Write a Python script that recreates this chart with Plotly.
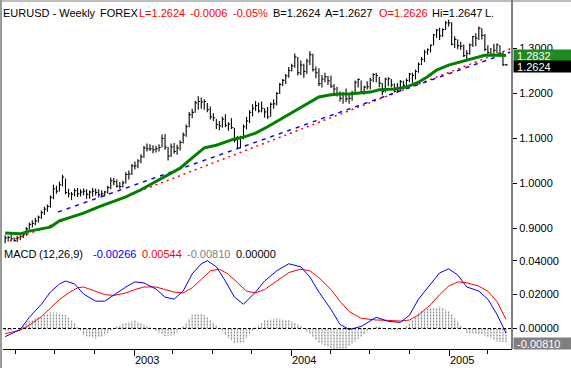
import plotly.graph_objects as go
import pandas as pd

# ---------------- data ----------------
week_dates = pd.date_range("2002-03-08", periods=167, freq="7D")

highs = [0.8840, 0.8830, 0.8850, 0.8790, 0.8820, 0.8840, 0.8880, 0.9020, 0.9120, 0.9170,
         0.9220, 0.9280, 0.9390, 0.9470, 0.9520, 0.9720, 0.9960, 0.9940, 1.0030, 1.0185,
         1.0100, 0.9870, 0.9800, 0.9880, 0.9890, 0.9860, 0.9880, 0.9860, 0.9830, 0.9890,
         0.9880, 0.9860, 0.9840, 0.9830, 0.9940, 1.0120, 1.0110, 1.0080, 1.0020, 1.0050,
         1.0240, 1.0280, 1.0420, 1.0480, 1.0530, 1.0640, 1.0820, 1.0880, 1.0860, 1.0840,
         1.0830, 1.0860, 1.1080, 1.1090, 1.0800, 1.0880, 1.0890, 1.0850, 1.0950, 1.1120,
         1.1300, 1.1580, 1.1650, 1.1830, 1.1930, 1.1900, 1.1860, 1.1780, 1.1700, 1.1550,
         1.1420, 1.1380, 1.1470, 1.1530, 1.1350, 1.1440, 1.1230, 1.1050, 1.1050, 1.1300,
         1.1470, 1.1620, 1.1750, 1.1820, 1.1790, 1.1810, 1.1660, 1.1690, 1.1790, 1.1860,
         1.2020, 1.2220, 1.2310, 1.2420, 1.2580, 1.2650, 1.2880, 1.2800, 1.2720, 1.2650,
         1.2760, 1.2930, 1.2870, 1.2590, 1.2550, 1.2400, 1.2450, 1.2380, 1.2390, 1.2200,
         1.2140, 1.2040, 1.2020, 1.2100, 1.1960, 1.2050, 1.2280, 1.2330, 1.2280, 1.2160,
         1.2260, 1.2340, 1.2440, 1.2450, 1.2360, 1.2220, 1.2340, 1.2350, 1.2310, 1.2210,
         1.2220, 1.2290, 1.2270, 1.2320, 1.2450, 1.2450, 1.2520, 1.2680, 1.2800, 1.2960,
         1.2990, 1.3080, 1.3310, 1.3420, 1.3450, 1.3440, 1.3600, 1.3630, 1.3570, 1.3260,
         1.3190, 1.3140, 1.3080, 1.2950, 1.3100, 1.3270, 1.3330, 1.3480, 1.3440, 1.3310,
         1.3060, 1.3000, 1.3090, 1.3100, 1.3060, 1.2930, 1.2647]

lows = [0.8660, 0.8700, 0.8730, 0.8700, 0.8690, 0.8730, 0.8780, 0.8830, 0.8960, 0.9010,
        0.9060, 0.9120, 0.9200, 0.9290, 0.9360, 0.9450, 0.9640, 0.9760, 0.9810, 0.9930,
        0.9750, 0.9680, 0.9620, 0.9700, 0.9690, 0.9700, 0.9730, 0.9650, 0.9650, 0.9700,
        0.9720, 0.9680, 0.9690, 0.9700, 0.9760, 0.9860, 0.9950, 0.9900, 0.9870, 0.9900,
        0.9990, 1.0080, 1.0180, 1.0300, 1.0330, 1.0440, 1.0560, 1.0700, 1.0710, 1.0660,
        1.0680, 1.0700, 1.0790, 1.0740, 1.0500, 1.0580, 1.0650, 1.0630, 1.0720, 1.0880,
        1.1030, 1.1240, 1.1440, 1.1560, 1.1630, 1.1650, 1.1630, 1.1570, 1.1410, 1.1380,
        1.1200, 1.1170, 1.1230, 1.1240, 1.1160, 1.1200, 1.0900, 1.0760, 1.0770, 1.0970,
        1.1190, 1.1330, 1.1480, 1.1600, 1.1560, 1.1570, 1.1450, 1.1420, 1.1470, 1.1650,
        1.1720, 1.1980, 1.2150, 1.2200, 1.2340, 1.2480, 1.2560, 1.2390, 1.2400, 1.2340,
        1.2420, 1.2620, 1.2480, 1.2330, 1.2150, 1.2120, 1.2240, 1.2180, 1.2110, 1.1990,
        1.1920, 1.1810, 1.1760, 1.1800, 1.1760, 1.1830, 1.1970, 1.2120, 1.1990, 1.1960,
        1.2080, 1.2080, 1.2240, 1.2240, 1.2130, 1.1950, 1.2010, 1.2150, 1.2130, 1.2010,
        1.2000, 1.2040, 1.2120, 1.2150, 1.2240, 1.2230, 1.2300, 1.2450, 1.2620, 1.2690,
        1.2850, 1.2900, 1.3060, 1.3220, 1.3180, 1.3250, 1.3400, 1.3480, 1.3060, 1.3000,
        1.2970, 1.2960, 1.2800, 1.2730, 1.2850, 1.3020, 1.3040, 1.3180, 1.3190, 1.2930,
        1.2860, 1.2820, 1.2830, 1.2890, 1.2870, 1.2600, 1.2605]

closes = [0.8780, 0.8790, 0.8760, 0.8720, 0.8780, 0.8810, 0.8850, 0.8980, 0.9080, 0.9100,
          0.9160, 0.9240, 0.9340, 0.9420, 0.9480, 0.9680, 0.9870, 0.9820, 0.9960, 1.0130,
          0.9790, 0.9760, 0.9750, 0.9830, 0.9760, 0.9800, 0.9820, 0.9750, 0.9800, 0.9820,
          0.9790, 0.9740, 0.9760, 0.9800, 0.9900, 1.0050, 1.0030, 0.9930, 0.9920, 1.0000,
          1.0190, 1.0200, 1.0380, 1.0380, 1.0490, 1.0580, 1.0780, 1.0760, 1.0760, 1.0740,
          1.0760, 1.0790, 1.0990, 1.0800, 1.0600, 1.0800, 1.0700, 1.0780, 1.0900, 1.1070,
          1.1250, 1.1520, 1.1570, 1.1780, 1.1810, 1.1800, 1.1810, 1.1630, 1.1470, 1.1450,
          1.1300, 1.1270, 1.1420, 1.1280, 1.1310, 1.1230, 1.0950, 1.0980, 1.1020, 1.1250,
          1.1380, 1.1570, 1.1660, 1.1720, 1.1600, 1.1660, 1.1580, 1.1470, 1.1750, 1.1760,
          1.1990, 1.2190, 1.2280, 1.2380, 1.2500, 1.2600, 1.2800, 1.2450, 1.2620, 1.2480,
          1.2710, 1.2850, 1.2520, 1.2450, 1.2210, 1.2310, 1.2360, 1.2270, 1.2150, 1.2090,
          1.1970, 1.1880, 1.1980, 1.1870, 1.1880, 1.2000, 1.2240, 1.2300, 1.2030, 1.2130,
          1.2140, 1.2290, 1.2410, 1.2390, 1.2220, 1.2030, 1.2310, 1.2320, 1.2180, 1.2040,
          1.2070, 1.2250, 1.2170, 1.2280, 1.2420, 1.2390, 1.2480, 1.2640, 1.2750, 1.2910,
          1.2960, 1.3060, 1.3290, 1.3400, 1.3270, 1.3410, 1.3560, 1.3560, 1.3080, 1.3190,
          1.3050, 1.3040, 1.2830, 1.2880, 1.3070, 1.3250, 1.3220, 1.3440, 1.3280, 1.2970,
          1.2900, 1.2860, 1.2950, 1.3070, 1.2880, 1.2630, 1.2624]

# moving average (green), read at selected weeks
ma_week = [0, 5, 8, 15, 18, 22, 26, 31, 35, 40, 45, 50, 55, 58, 62, 66, 70, 73, 76, 79,
           83, 87, 92, 98, 101, 104, 108, 111, 114, 118, 121, 124, 129, 133, 137, 140,
           143, 147, 151, 156, 159, 163, 166]
ma_value = [0.889, 0.887, 0.893, 0.902, 0.916, 0.924, 0.933, 0.947, 0.956, 0.969, 0.985,
            1.003, 1.022, 1.033, 1.056, 1.078, 1.084, 1.091, 1.098, 1.102, 1.111, 1.125,
            1.144, 1.167, 1.178, 1.191, 1.196, 1.198, 1.198, 1.200, 1.202, 1.207, 1.209,
            1.213, 1.224, 1.236, 1.251, 1.262, 1.269, 1.278, 1.284, 1.284, 1.2832]

# trend lines (two anchor points each)
red_trend_dates = ["2002-03-19", "2005-05-23"]
red_trend_values = [0.8711, 1.2982]
blue_trend_dates = ["2002-07-09", "2005-05-23"]
blue_trend_values = [0.9356, 1.2911]

# MACD (12,26,9)
macd_week = [0, 5, 8, 12, 15, 18, 20, 23, 26, 30, 33, 36, 40, 43, 46, 50, 53, 56, 59, 62,
             65, 67, 70, 73, 76, 79, 83, 86, 90, 94, 98, 101, 104, 108, 111, 114, 118,
             123, 127, 131, 134, 137, 141, 144, 147, 150, 153, 157, 160, 163, 166]
macd_value = [-0.0048, -0.0006, 0.0066, 0.0143, 0.0215, 0.0263, 0.0280, 0.0263, 0.0203,
              0.0161, 0.0161, 0.0197, 0.0245, 0.0275, 0.0269, 0.0233, 0.0185, 0.0173,
              0.0221, 0.0322, 0.0382, 0.0400, 0.0364, 0.0280, 0.0185, 0.0143, 0.0215,
              0.0280, 0.0340, 0.0382, 0.0364, 0.0304, 0.0215, 0.0113, 0.0024, -0.0006,
              0.0012, 0.0066, 0.0042, 0.0036, 0.0078, 0.0173, 0.0263, 0.0328, 0.0352,
              0.0316, 0.0245, 0.0221, 0.0173, 0.0084, -0.00266]

signal_week = [0, 5, 8, 12, 15, 18, 21, 24, 26, 30, 33, 36, 40, 43, 46, 50, 53, 56, 59, 62,
               65, 68, 71, 74, 77, 80, 83, 86, 90, 94, 98, 101, 104, 108, 111, 114, 118,
               123, 127, 131, 134, 137, 141, 144, 147, 150, 153, 157, 160, 163, 166]
signal_value = [-0.0030, -0.0010, 0.0020, 0.0070, 0.0120, 0.0170, 0.0210, 0.0240, 0.0245,
                0.0220, 0.0200, 0.0195, 0.0210, 0.0230, 0.0245, 0.0245, 0.0230, 0.0215,
                0.0210, 0.0240, 0.0290, 0.0340, 0.0350, 0.0320, 0.0270, 0.0220, 0.0210,
                0.0230, 0.0280, 0.0330, 0.0350, 0.0340, 0.0300, 0.0230, 0.0160, 0.0100,
                0.0060, 0.0050, 0.0048, 0.0044, 0.0050, 0.0080, 0.0140, 0.0200, 0.0250,
                0.0275, 0.0270, 0.0250, 0.0220, 0.0160, 0.00544]

hist_value = [-0.0018, -0.0014, -0.0010, -0.0005, 0.0000, 0.0004, 0.0018, 0.0032, 0.0046, 0.0053,
              0.0060, 0.0066, 0.0073, 0.0080, 0.0088, 0.0095, 0.0095, 0.0094, 0.0093, 0.0088,
              0.0080, 0.0063, 0.0046, 0.0030, 0.0007, -0.0016, -0.0040, -0.0045, -0.0050, -0.0055,
              -0.0060, -0.0053, -0.0047, -0.0040, -0.0026, -0.0012, 0.0002, 0.0010, 0.0019, 0.0027,
              0.0035, 0.0038, 0.0042, 0.0045, 0.0038, 0.0031, 0.0024, 0.0015, 0.0006, -0.0003,
              -0.0012, -0.0023, -0.0034, -0.0045, -0.0043, -0.0042, -0.0040, -0.0023, -0.0006, 0.0010,
              0.0033, 0.0057, 0.0080, 0.0083, 0.0087, 0.0090, 0.0080, 0.0070, 0.0053, 0.0037,
              0.0020, 0.0000, -0.0020, -0.0040, -0.0057, -0.0073, -0.0090, -0.0087, -0.0083, -0.0080,
              -0.0058, -0.0036, -0.0015, 0.0005, 0.0020, 0.0035, 0.0050, 0.0053, 0.0055, 0.0058,
              0.0060, 0.0058, 0.0055, 0.0053, 0.0050, 0.0041, 0.0032, 0.0023, 0.0014, -0.0003,
              -0.0020, -0.0036, -0.0052, -0.0069, -0.0085, -0.0093, -0.0101, -0.0109, -0.0117, -0.0123,
              -0.0130, -0.0136, -0.0126, -0.0116, -0.0106, -0.0091, -0.0077, -0.0062, -0.0048, -0.0035,
              -0.0022, -0.0009, 0.0004, 0.0016, 0.0011, 0.0005, 0.0000, -0.0006, -0.0006, -0.0007,
              -0.0007, -0.0008, 0.0004, 0.0016, 0.0028, 0.0050, 0.0071, 0.0093, 0.0101, 0.0108,
              0.0116, 0.0123, 0.0125, 0.0126, 0.0128, 0.0119, 0.0111, 0.0102, 0.0082, 0.0061,
              0.0041, 0.0019, -0.0003, -0.0025, -0.0026, -0.0027, -0.0028, -0.0029, -0.0035, -0.0041,
              -0.0047, -0.0057, -0.0066, -0.0076, -0.0078, -0.0079, -0.0081]

price_ticks = [0.9, 1.0, 1.1, 1.2, 1.3]
price_tick_text = ["0.9000", "1.0000", "1.1000", "1.2000", "1.3000"]
macd_ticks = [0.0, 0.02, 0.04]
macd_tick_text = ["0.00000", "0.02000", "0.04000"]
year_ticks = ["2003-01-01", "2004-01-01", "2005-01-01"]
year_text = ["2003", "2004", "2005"]
quarter_ticks = ["2002-04-01", "2002-07-01", "2002-10-01", "2003-01-01", "2003-04-01",
                 "2003-07-01", "2003-10-01", "2004-01-01", "2004-04-01", "2004-07-01",
                 "2004-10-01", "2005-01-01", "2005-04-01"]

# ---------------- geometry helpers ----------------
W, H = 571, 368
ML, MR, MT, MB = 3, 59, 3, 19
PW, PH = W - ML - MR, H - MT - MB


def px_x(px):
    return (px - ML) / PW


def px_y(py):
    return (H - MB - py) / PH


# ---------------- figure ----------------
fig = go.Figure()

# price bars (high-low with close tick on the right)
tick_off = pd.Timedelta(days=4)
bx, by = [], []
for d, h, l, c in zip(week_dates, highs, lows, closes):
    bx += [d, d, None, d, d + tick_off, None]
    by += [l, h, None, c, c, None]
fig.add_trace(go.Scatter(x=bx, y=by, mode="lines", line=dict(color="black", width=1.1),
                         connectgaps=False, hoverinfo="skip", xaxis="x", yaxis="y"))

# trend lines
fig.add_trace(go.Scatter(x=pd.to_datetime(red_trend_dates), y=red_trend_values, mode="lines",
                         line=dict(color="#ff0000", width=1.5, dash="2px,4px"), xaxis="x", yaxis="y"))
fig.add_trace(go.Scatter(x=pd.to_datetime(blue_trend_dates), y=blue_trend_values, mode="lines",
                         line=dict(color="#0000ff", width=1.5, dash="4px,5px"), xaxis="x", yaxis="y"))

# moving average
fig.add_trace(go.Scatter(x=week_dates[ma_week], y=ma_value, mode="lines",
                         line=dict(color="#008000", width=3), xaxis="x", yaxis="y"))

# MACD histogram
hx, hy = [], []
for d, v in zip(week_dates, hist_value):
    hx += [d, d, None]
    hy += [0, v, None]
fig.add_trace(go.Scatter(x=hx, y=hy, mode="lines",
                         line=dict(color="#8c8c8c", width=1.3, dash="2px,1px"),
                         connectgaps=False, xaxis="x2", yaxis="y2"))

fig.add_trace(go.Scatter(x=week_dates[signal_week], y=signal_value, mode="lines",
                         line=dict(color="#ff0000", width=1), xaxis="x2", yaxis="y2"))
fig.add_trace(go.Scatter(x=week_dates[macd_week], y=macd_value, mode="lines",
                         line=dict(color="#0000ff", width=1), xaxis="x2", yaxis="y2"))

x_range = ["2002-03-03", "2005-05-27"]
price_dom = [px_y(244), 1]
macd_dom = [0, px_y(246)]
price_range = [1.3 - (244 - 48) / 450, 1.3 + (48 - 3) / 450]
macd_range = [(328.5 - 349) / 1695, (328.5 - 246) / 1695]

FONT = "Liberation Sans, Arial, sans-serif"
axis_font = dict(family=FONT, size=11, color="black")

fig.update_layout(
    width=W, height=H,
    margin=dict(l=ML, r=MR, t=MT, b=MB, pad=0, autoexpand=False),
    paper_bgcolor="white", plot_bgcolor="white",
    showlegend=False,
    font=axis_font,
    xaxis=dict(domain=[0, 1], anchor="y", range=x_range, type="date", automargin=False,
               showticklabels=False, showgrid=False, zeroline=False, showline=False, ticks=""),
    xaxis2=dict(domain=[0, 1], anchor="y2", matches="x", type="date", automargin=False,
                tickmode="array", tickvals=year_ticks, showticklabels=False,
                ticks="outside", ticklen=6, tickcolor="black", tickwidth=1,
                showline=True, linecolor="black", linewidth=1,
                showgrid=False, zeroline=False,
                minor=dict(tickvals=quarter_ticks, ticks="outside", ticklen=4,
                           tickcolor="black", tickwidth=1, showgrid=False)),
    yaxis=dict(domain=price_dom, anchor="x", side="right", range=price_range, automargin=False,
               tickmode="array", tickvals=price_ticks, ticktext=price_tick_text,
               ticks="outside", ticklen=4, tickcolor="black", showgrid=False,
               zeroline=False, showline=False, tickfont=axis_font),
    yaxis2=dict(domain=macd_dom, anchor="x2", side="right", range=macd_range, automargin=False,
                tickmode="array", tickvals=macd_ticks, ticktext=macd_tick_text,
                ticks="outside", ticklen=4, tickcolor="black", showgrid=False,
                zeroline=False, showline=False, tickfont=axis_font),
)

shapes = [
    # right axis line
    dict(type="line", xref="paper", yref="paper", x0=1, x1=1, y0=0, y1=px_y(0),
         line=dict(color="black", width=1)),
    # top border
    dict(type="line", xref="paper", yref="paper", x0=px_x(0), x1=px_x(571), y0=px_y(1), y1=px_y(1),
         line=dict(color="#7a7a7a", width=1)),
    # left border
    dict(type="line", xref="paper", yref="paper", x0=px_x(1), x1=px_x(1), y0=px_y(368), y1=px_y(0),
         line=dict(color="#9a9a9a", width=2)),
    # MACD zero line
    dict(type="line", xref="x2 domain", yref="y2", x0=0, x1=1, y0=0, y1=0,
         line=dict(color="black", width=1, dash="3px,2px")),
]
fig.update_layout(shapes=shapes)

annotations = []


def label(text, xpx, ypx, color):
    annotations.append(dict(text=text, x=px_x(xpx), y=px_y(ypx), xref="paper", yref="paper",
                            xanchor="left", yanchor="middle", showarrow=False,
                            font=dict(family=FONT, size=11, color=color), borderpad=0))


hdr_y = 13
for t, xp, col in [("EURUSD - Weekly", 2, "black"), ("FOREX", 99, "black"),
                   ("L=1.2624", 138, "#ff0000"), ("-0.0006", 189, "#ff0000"),
                   ("-0.05%", 232, "#ff0000"), ("B=1.2624", 272, "black"),
                   ("A=1.2627", 324, "black"), ("O=1.2626", 378, "#ff0000"),
                   ("Hi=1.2647", 431, "black"), ("L.", 484, "black")]:
    label(t, xp, hdr_y, col)

macd_hdr_y = 254
for t, xp, col in [("MACD", 3, "black"), ("(12,26,9)", 38, "black"),
                   ("-0.00266", 92, "#0000ff"), ("0.00544", 141, "#ff0000"),
                   ("-0.00810", 186, "#808080"), ("0.00000", 235, "black")]:
    label(t, xp, macd_hdr_y, col)

# year labels, left-aligned just right of their tick
for yv, yt in zip(year_ticks, year_text):
    annotations.append(dict(text=yt, x=yv, xref="x2", xanchor="left", xshift=0,
                            y=px_y(360), yref="paper", yanchor="middle", showarrow=False,
                            font=dict(family=FONT, size=11, color="black"), borderpad=0))


def value_box(text, yval, yref, bg, yshift=0):
    annotations.append(dict(text="&nbsp;" + text, x=1, xref="paper", xanchor="left", xshift=1,
                            y=yval, yref=yref, yanchor="middle", yshift=yshift,
                            showarrow=False, bgcolor=bg, width=57, height=11, align="left",
                            borderpad=0,
                            font=dict(family=FONT, size=11, color="white")))


value_box("1.2832", ma_value[-1], "y", "#1f8a1f", yshift=0)
value_box("1.2624", closes[-1], "y", "#000000", yshift=-2)
value_box("-0.00810", hist_value[-1], "y2", "#7f7f7f", yshift=-1)

fig.update_layout(annotations=annotations)

fig.write_html("out.html", config={"displayModeBar": False},
               post_script="document.body.style.margin='0';document.body.style.padding='0';")
